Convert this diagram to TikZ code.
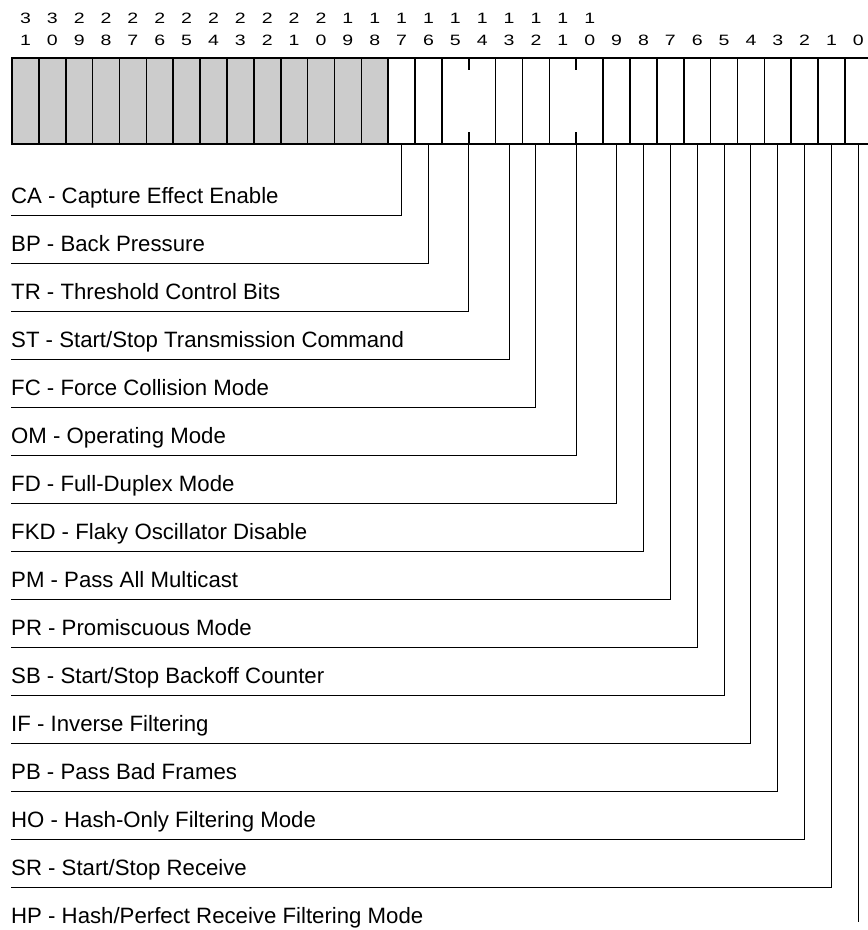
\documentclass[tikz,border=0pt]{standalone}
\usepackage{fontspec}
\setmainfont{Liberation Sans}
\usepackage{graphicx}
\usepackage{tikz}
\usepackage{xcolor}

\newcommand{\widedigit}[1]{\scalebox{1.3}[1]{#1}}

\begin{document}
\begin{tikzpicture}[x=1pt,y=-1pt,
  cell/.style={minimum width=26.87pt,minimum height=86pt,inner sep=0pt,outer sep=0pt},
  bitnum/.style={anchor=base,inner sep=0pt,font=\fontsize{15}{18}\selectfont},
  field/.style={anchor=south west,inner xsep=0pt,inner ysep=11.5pt,text depth=0pt,font=\fontsize{22.2}{26}\selectfont},
  conn/.style={line width=1pt},
  divider/.style={line width=1.6pt}]
\useasboundingbox (0,0) rectangle (868,930);
% register cells, bit 31 on the left
\foreach \b in {0,...,31} {
  \pgfmathsetmacro\cx{12+(31-\b+0.5)*26.87}
  \ifnum\b>17 \node[cell,fill=gray!40] (b\b) at (\cx,101) {};
  \else \node[cell] (b\b) at (\cx,101) {};\fi
}
% bit numbers
\foreach \b in {0,...,31} {
  \pgfmathtruncatemacro\hi{\b/10}
  \pgfmathtruncatemacro\lo{mod(\b,10)}
  \node[bitnum] (lo\b) at (b\b.north |- 0,45.5) {\widedigit{\lo}};
  \ifnum\b>9 \node[bitnum] (hi\b) at (b\b.north |- 0,23.5) {\widedigit{\hi}};\fi
}
% dividers, ticks where two bits form one field
\foreach \b in {1,...,10} \draw[divider] (b\b.north east) -- (b\b.south east);
\foreach \b in {12,13,14,16,17,18,19,20,21,22,23,24,25,26,27,28,29,30,31}
  \draw[divider] (b\b.north east) -- (b\b.south east);
\draw[divider] (b15.north east) -- ++(0,12) (b15.south east) -- ++(0,-12);
\draw[divider] (b11.north east) -- ++(0,12) (b11.south east) -- ++(0,-12);
\draw[line width=2.6pt] (b31.north west) rectangle (b0.south east);
% field names
\node[field] (CA) at (11,215) {CA - Capture Effect Enable};
\node[field] (BP) at (11,263) {BP - Back Pressure};
\node[field] (TR) at (11,311) {TR - Threshold Control Bits};
\node[field] (ST) at (11,359) {ST - Start/Stop Transmission Command};
\node[field] (FC) at (11,407) {FC - Force Collision Mode};
\node[field] (OM) at (11,455) {OM - Operating Mode};
\node[field] (FD) at (11,503) {FD - Full-Duplex Mode};
\node[field] (FKD) at (11,551) {FKD - Flaky Oscillator Disable};
\node[field] (PM) at (11,599) {PM - Pass All Multicast};
\node[field] (PR) at (11,647) {PR - Promiscuous Mode};
\node[field] (SB) at (11,695) {SB - Start/Stop Backoff Counter};
\node[field] (IF) at (11,743) {IF - Inverse Filtering};
\node[field] (PB) at (11,791) {PB - Pass Bad Frames};
\node[field] (HO) at (11,839) {HO - Hash-Only Filtering Mode};
\node[field] (SR) at (11,887) {SR - Start/Stop Receive};
\node[field] (HP) at (11,935) {HP - Hash/Perfect Receive Filtering Mode};
% leaders from the bits
\draw[conn] (b17.south) |- (CA.south west);
\draw[conn] (b16.south) |- (BP.south west);
\draw[conn] (b14.south west) |- (TR.south west);
\draw[conn] (b13.south) |- (ST.south west);
\draw[conn] (b12.south) |- (FC.south west);
\draw[conn] (b10.south west) |- (OM.south west);
\draw[conn] (b9.south) |- (FD.south west);
\draw[conn] (b8.south) |- (FKD.south west);
\draw[conn] (b7.south) |- (PM.south west);
\draw[conn] (b6.south) |- (PR.south west);
\draw[conn] (b5.south) |- (SB.south west);
\draw[conn] (b4.south) |- (IF.south west);
\draw[conn] (b3.south) |- (PB.south west);
\draw[conn] (b2.south) |- (HO.south west);
\draw[conn] (b1.south) |- (SR.south west);
\coordinate (hpend) at (b0.south |- 0,922);
\draw[conn] (b0.south) -- (hpend);
\end{tikzpicture}
\end{document}
